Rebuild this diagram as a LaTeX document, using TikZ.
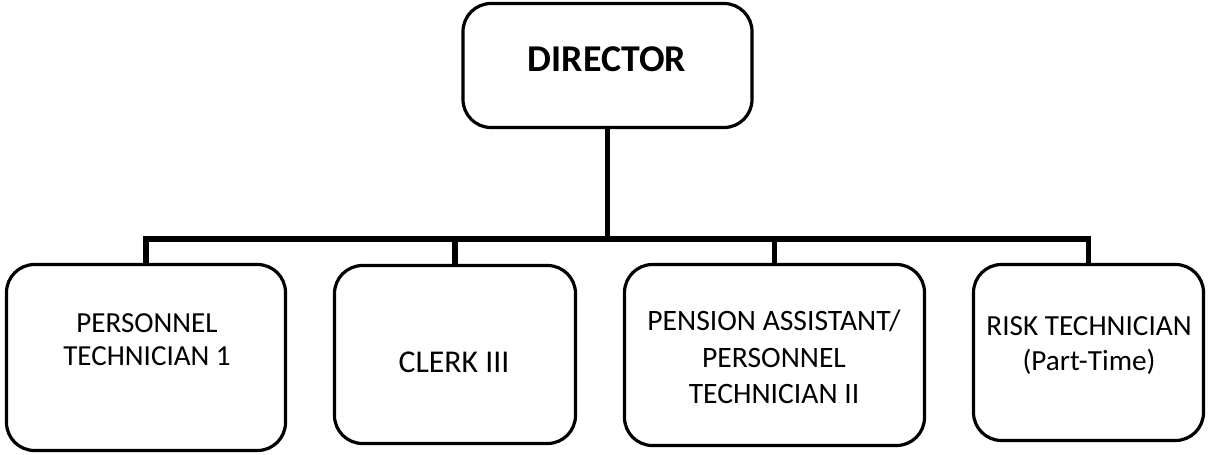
\documentclass[tikz,border=0pt]{standalone}
\usepackage{fontspec}
\setmainfont{Carlito}
\begin{document}
\begin{tikzpicture}[x=0.75pt,y=-0.75pt,
  box/.style={draw=black,line width=2.4pt,rounded corners=21pt,rectangle,inner sep=0pt,outer sep=0pt,fill=white},
  conn/.style={draw=black,line width=4pt,line join=miter},
  lbl/.style={align=center,inner sep=0pt}]
\useasboundingbox (0,0) rectangle (1209,454);
% boxes
\node[box,minimum width=216.75pt,minimum height=93pt] (dir) at (607.5,65.5) {};
\node[box,minimum width=209.25pt,minimum height=139.5pt] (b1) at (146,357.5) {};
\node[box,minimum width=180.75pt,minimum height=133.5pt] (b2) at (455,354.5) {};
\node[box,minimum width=225pt,minimum height=135.75pt] (b3) at (774.5,355) {};
\node[box,minimum width=172.5pt,minimum height=132pt] (b4) at (1088.5,352.5) {};
% bus coordinate
\coordinate (bus) at (607,239);
% connectors
\draw[conn] (dir.south) -- (dir.south |- bus);
\draw[conn] (b1.north) -- (b1.north |- bus) -- (b4.north |- bus) -- (b4.north);
\draw[conn] (b2.north |- bus) -- (b2.north);
\draw[conn] (b3.north |- bus) -- (b3.north);
% labels
\node[inner sep=0pt,font=\fontsize{28.4}{32}\selectfont\bfseries] (tdir) at (607,59) {DIRECTOR};
\node[lbl,font=\fontsize{21.8}{24.75}\selectfont] (t1) at (147,340) {PERSONNEL\\TECHNICIAN 1};
\node[lbl,font=\fontsize{23.8}{26}\selectfont] (t2) at (454,362.5) {CLERK III};
\node[lbl,font=\fontsize{22.2}{27.4}\selectfont] (t3) at (774,357) {PENSION ASSISTANT/\\PERSONNEL\\TECHNICIAN II};
\node[lbl,font=\fontsize{21.9}{26.25}\selectfont] (t4) at (1089,345.5) {RISK TECHNICIAN\\(Part-Time)};
\end{tikzpicture}
\end{document}
